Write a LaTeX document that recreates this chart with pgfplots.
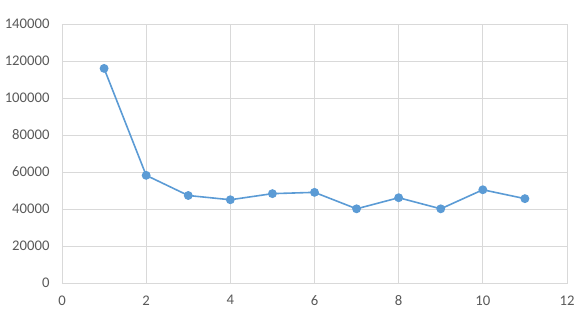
\documentclass[border=0pt]{standalone}
\usepackage{pgfplots}
\pgfplotsset{compat=1.18}
\usepackage{fontspec}
\setmainfont{Carlito}
\definecolor{ser}{HTML}{5B9BD5}
\definecolor{grd}{HTML}{D9D9D9}
\definecolor{txt}{HTML}{595959}
\begin{document}
\begin{tikzpicture}
\begin{axis}[
  scale only axis,
  width=505pt, height=259pt,
  xmin=0, xmax=12, ymin=0, ymax=140000,
  xtick={0,2,...,12},
  ytick={0,20000,...,140000},
  grid=major,
  grid style={grd, line width=0.8pt},
  axis line style={grd, line width=0.8pt},
  tick style={draw=none},
  ticklabel style={font=\fontsize{14.7}{16}\selectfont, text=txt},
  xticklabel style={yshift=-9pt},
  yticklabel style={xshift=-9pt},
  /pgf/number format/assume math mode=true,
  scaled y ticks=false,
  yticklabel style={/pgf/number format/fixed, /pgf/number format/1000 sep={}},
  clip=false,
]
\addplot[color=ser, line width=1.6pt, mark=*, mark size=3.6pt, mark options={fill=ser, draw=ser}]
coordinates {
(1,116000) (2,58200) (3,47300) (4,45000) (5,48300) (6,49000) (7,40100) (8,46100) (9,40100) (10,50400) (11,45600)
};
\path ([shift={(-62pt,-31pt)}]rel axis cs:0,0) rectangle ([shift={(12pt,24pt)}]rel axis cs:1,1);
\end{axis}
\end{tikzpicture}
\end{document}
